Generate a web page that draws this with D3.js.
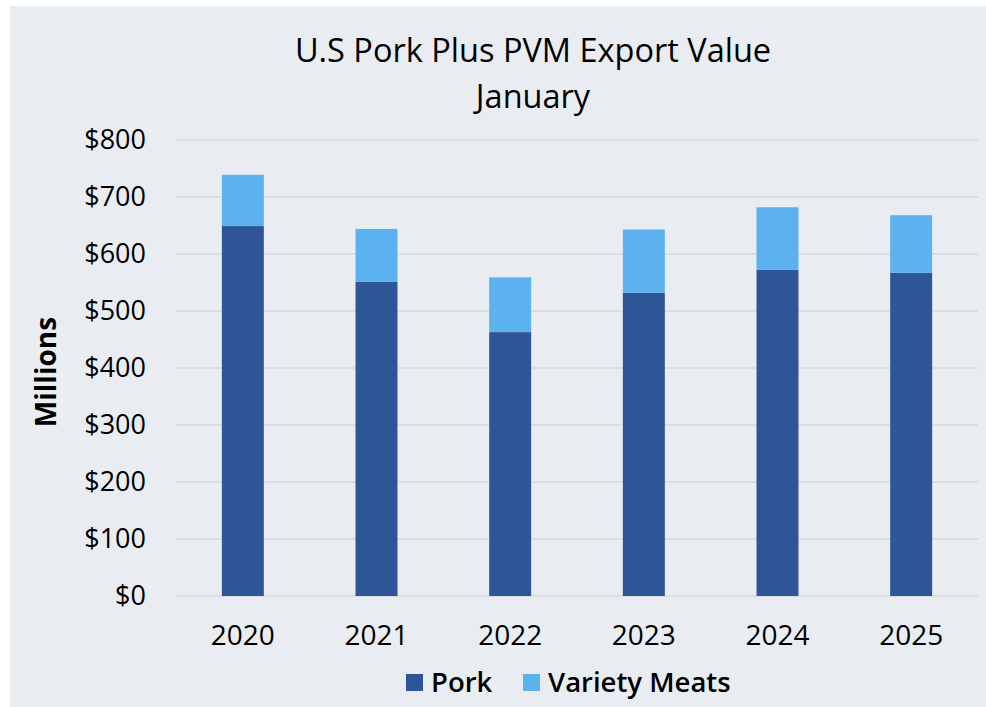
<!DOCTYPE html>
<html>
<head>
<meta charset="utf-8">
<script src="https://cdn.jsdelivr.net/npm/d3@7"></script>
<style>
  body { margin: 0; background: #ffffff; }
  text { font-family: "Open Sans", sans-serif; fill: #000; }
</style>
</head>
<body>
<div id="chart"></div>
<script>
// values (millions of dollars)
var years = ["2020", "2021", "2022", "2023", "2024", "2025"];
var pork = [649, 551, 463, 532, 572, 567];
var varietyMeats = [90, 93, 96, 111, 110, 101];
var yTicks = [0, 100, 200, 300, 400, 500, 600, 700, 800];
var seriesNames = ["Pork", "Variety Meats"];
var colors = ["#2E5597", "#5BB2EE"];

var W = 986, H = 707;
var margin = {top: 140, right: 8, bottom: 111, left: 176},
    width = W - margin.left - margin.right,
    height = H - margin.top - margin.bottom;

var root = d3.select("#chart")
    .append("svg")
        .attr("width", W)
        .attr("height", H);

// chart background
root.append("rect")
    .attr("x", 10)
    .attr("y", 6)
    .attr("width", W - 10)
    .attr("height", H - 6)
    .attr("fill", "#E9EDF2");

var svg = root.append("g")
    .attr("transform", "translate(" + margin.left + "," + margin.top + ")");

var x = d3.scaleBand().domain(years).range([0, width]).paddingInner(0.686).paddingOuter(0.343);
var y = d3.scaleLinear().domain([0, 800]).range([height, 0]);

// gridlines
svg.append("g")
    .selectAll("line")
    .data(yTicks)
    .enter()
    .append("line")
        .attr("x1", 0)
        .attr("x2", width)
        .attr("y1", function(d) { return y(d); })
        .attr("y2", function(d) { return y(d); })
        .attr("stroke", "#D6D8DB")
        .attr("stroke-width", 1.5);

// y axis labels
var yAxis = svg.append("g")
    .call(d3.axisLeft(y).tickValues(yTicks).tickSize(0).tickPadding(30)
        .tickFormat(function(d) { return "$" + d; }));
yAxis.select(".domain").remove();
yAxis.selectAll("text")
    .style("font-size", "27px")
    .style("font-family", "'Open Sans', sans-serif")
    .attr("fill", "#000");

// x axis labels
var xAxis = svg.append("g")
    .attr("transform", "translate(0," + height + ")")
    .call(d3.axisBottom(x).tickSize(0).tickPadding(29));
xAxis.select(".domain").remove();
xAxis.selectAll("text")
    .style("font-size", "28px")
    .style("font-family", "'Open Sans', sans-serif")
    .attr("fill", "#000");

// stacked bars
var table = years.map(function(yr, i) {
    return {year: yr, "Pork": pork[i], "Variety Meats": varietyMeats[i]};
});
var stacked = d3.stack().keys(seriesNames)(table);

svg.append("g")
    .selectAll("g")
    .data(stacked)
    .enter()
    .append("g")
        .attr("fill", function(d, i) { return colors[i]; })
    .selectAll("rect")
    .data(function(d) { return d; })
    .enter()
    .append("rect")
        .attr("x", function(d) { return x(d.data.year); })
        .attr("y", function(d) { return y(d[1]); })
        .attr("height", function(d) { return y(d[0]) - y(d[1]); })
        .attr("width", x.bandwidth());

// title
root.append("text")
    .attr("text-anchor", "middle")
    .attr("x", 533)
    .attr("y", 62)
    .style("font-size", "32.5px")
    .text("U.S Pork Plus PVM Export Value");

root.append("text")
    .attr("text-anchor", "middle")
    .attr("x", 533)
    .attr("y", 108)
    .style("font-size", "32.5px")
    .text("January");

// y axis title
root.append("text")
    .attr("text-anchor", "middle")
    .attr("transform", "translate(56,372) rotate(-90)")
    .style("font-size", "28px")
    .style("font-weight", "bold")
    .text("Millions");

// legend
var legendX = [406, 523];
var legend = root.append("g");
seriesNames.forEach(function(name, i) {
    legend.append("rect")
        .attr("x", legendX[i])
        .attr("y", 674)
        .attr("width", 17)
        .attr("height", 17)
        .attr("fill", colors[i]);
    legend.append("text")
        .attr("x", legendX[i] + 25)
        .attr("y", 692)
        .style("font-size", "27.5px")
        .style("font-weight", "600")
        .text(name);
});
</script>
</body>
</html>
